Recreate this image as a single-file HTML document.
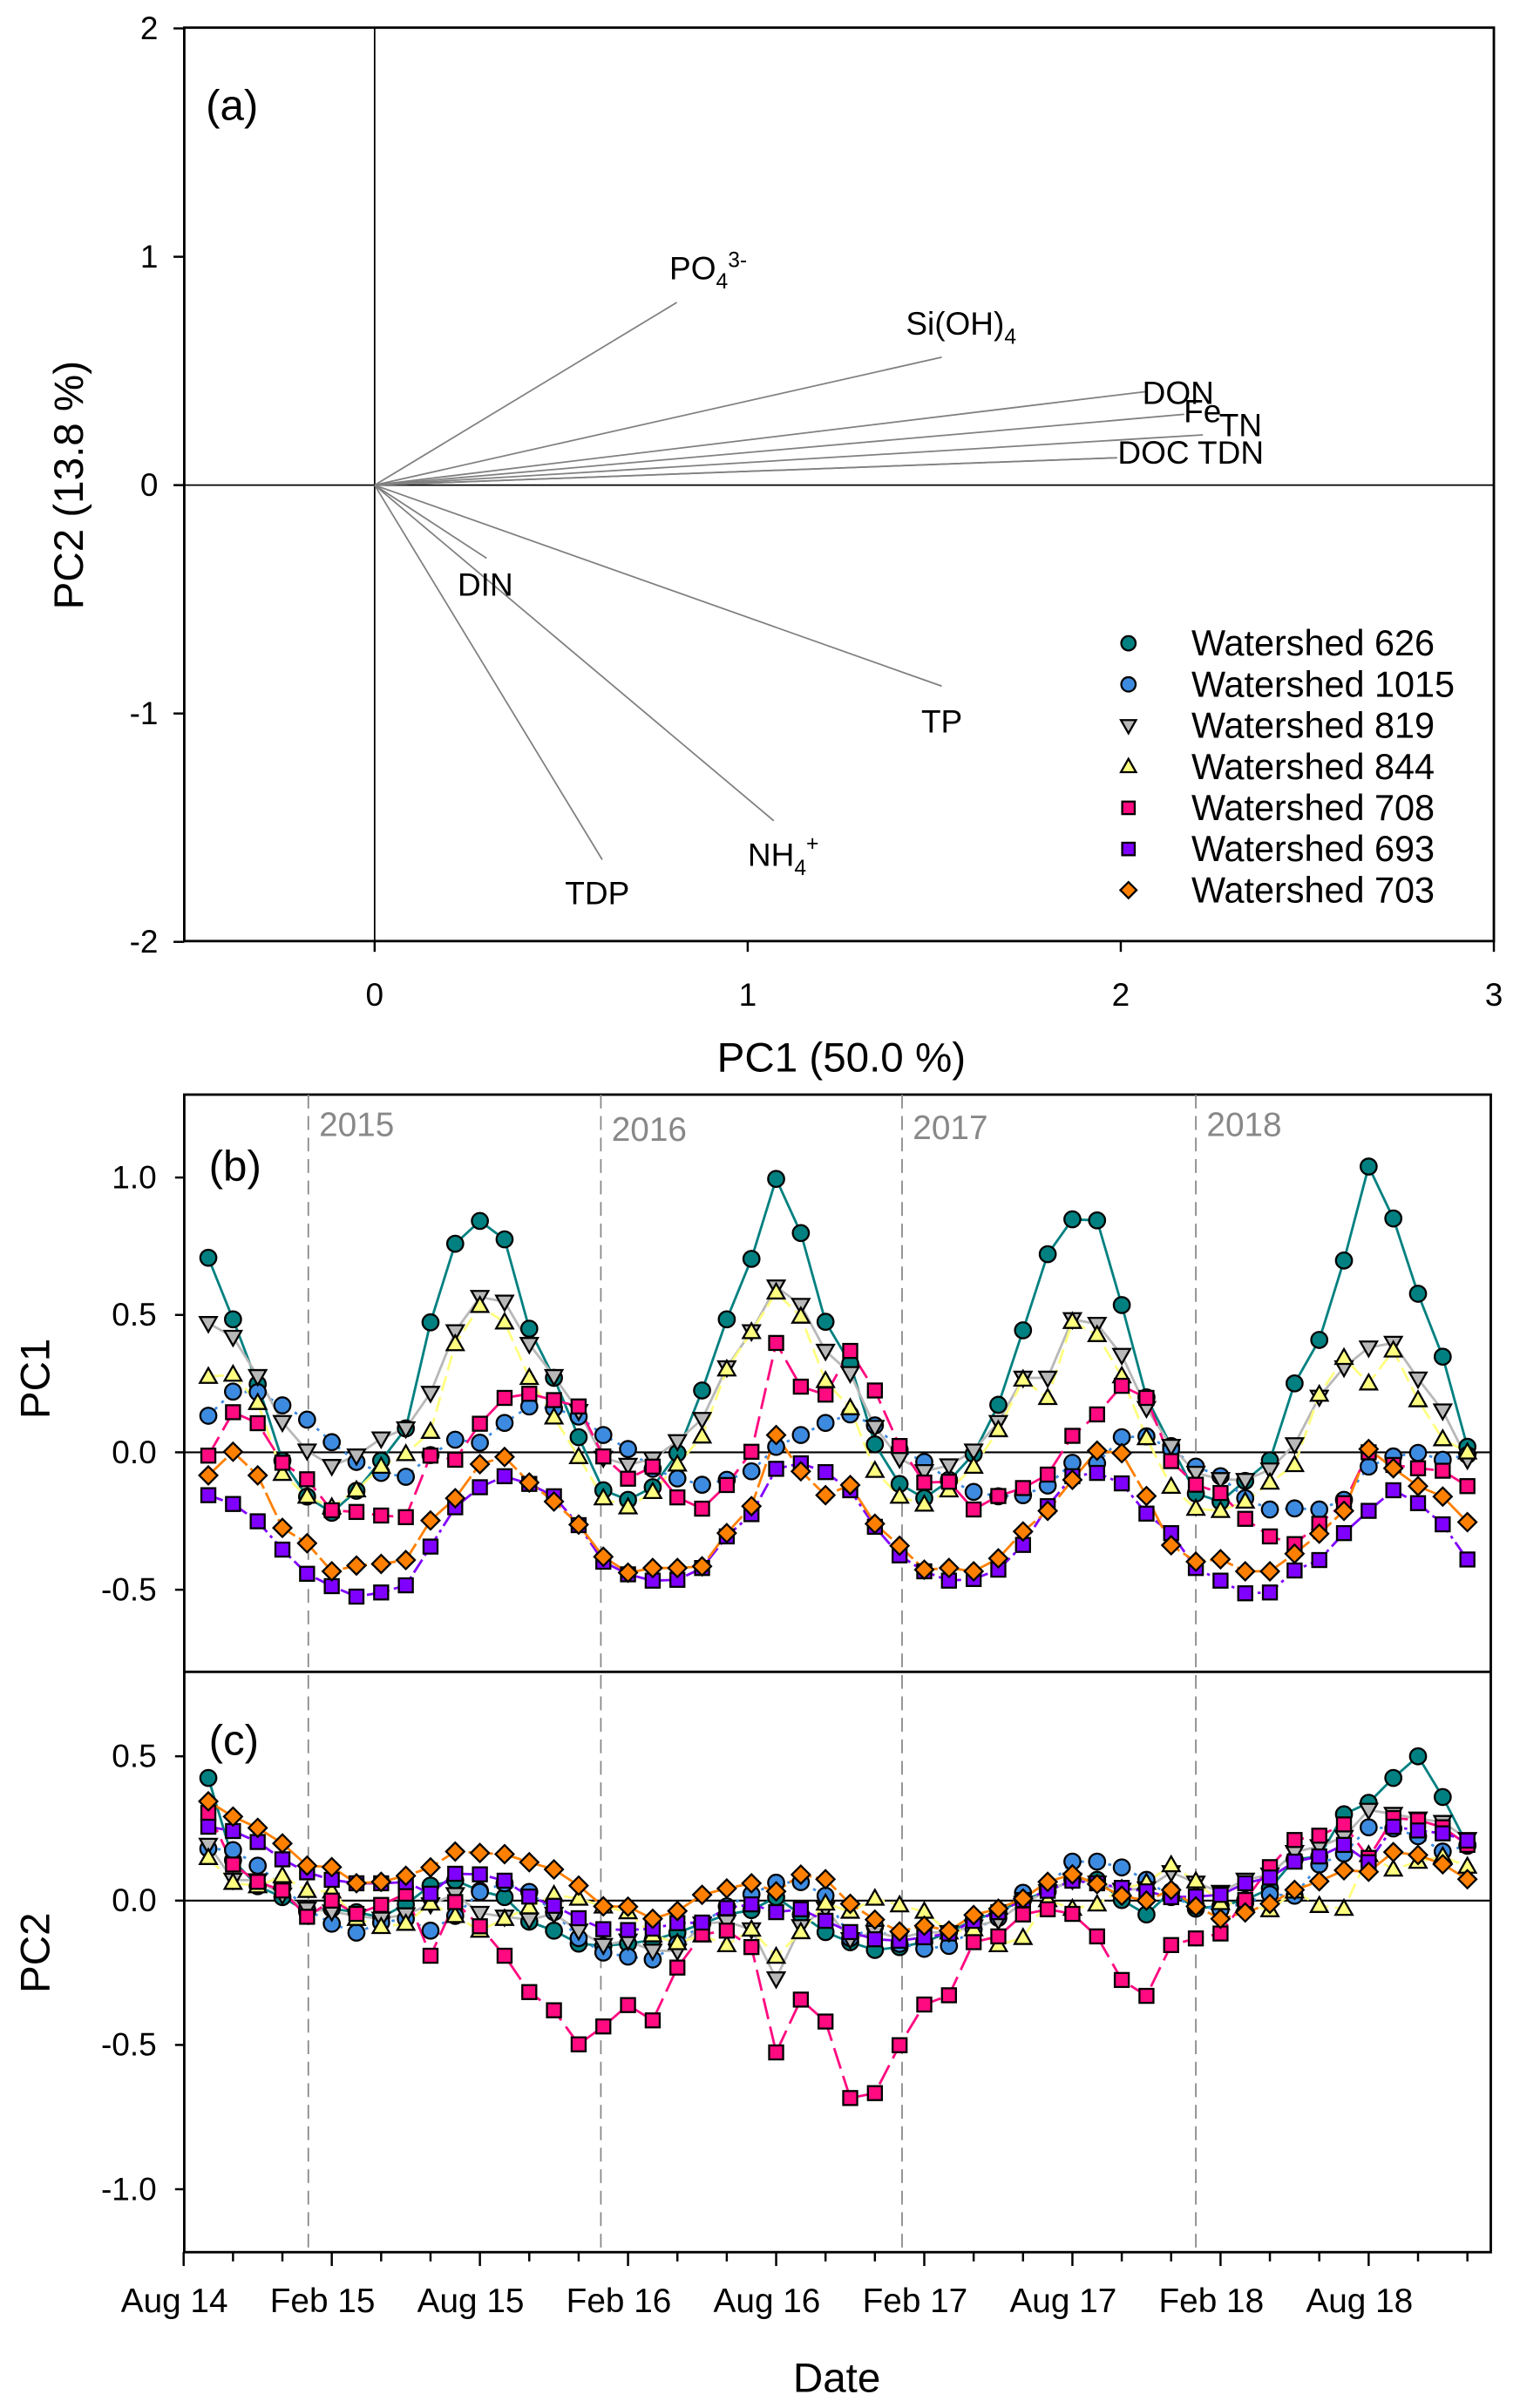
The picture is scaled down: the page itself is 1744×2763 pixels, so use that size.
<!DOCTYPE html>
<html><head><meta charset="utf-8">
<style>
html,body{margin:0;padding:0;background:#fff;}
svg{display:block;}
text{font-family:"Liberation Sans",Arial,sans-serif;}
.n{font-family:"Liberation Sans Narrow","Liberation Sans",sans-serif;}
</style></head>
<body>
<svg id="fig" xmlns="http://www.w3.org/2000/svg" width="1744" height="2763" viewBox="0 0 990 1568.5">
<rect x="0" y="0" width="990" height="1568.5" fill="#fff"/>
<g>
<rect x="120" y="18" width="853" height="595" fill="none" stroke="#000" stroke-width="1.6"/>
<line x1="244" y1="18" x2="244" y2="613" stroke="#000" stroke-width="1"/>
<line x1="120" y1="316" x2="973" y2="316" stroke="#000" stroke-width="1"/>
<text x="134" y="78" font-size="28">(a)</text>
<text transform="translate(54,316) rotate(-90)" text-anchor="middle" font-size="27">PC2 (13.8 %)</text>
<text x="548" y="698" text-anchor="middle" font-size="27">PC1 (50.0 %)</text>
</g>
<g id="pa"></g>
<g>
<rect x="120" y="713" width="851" height="754" fill="none" stroke="#000" stroke-width="1.6"/>
<line x1="120" y1="1089" x2="971" y2="1089" stroke="#000" stroke-width="1.6"/>
<line x1="120" y1="946" x2="971" y2="946" stroke="#000" stroke-width="1.2"/>
<line x1="120" y1="1238" x2="971" y2="1238" stroke="#000" stroke-width="1.2"/>
<text x="136" y="769" font-size="28">(b)</text>
<text x="136" y="1143" font-size="28">(c)</text>
<text transform="translate(32,898) rotate(-90)" text-anchor="middle" font-size="27">PC1</text>
<text transform="translate(32,1272) rotate(-90)" text-anchor="middle" font-size="27">PC2</text>
<text x="545" y="1558" text-anchor="middle" font-size="27">Date</text>
</g>
<g id="pbc"></g>
</svg>
<script>
const loadNames = ["PO4","Si(OH)4","DON","Fe","TN","DOC","TDN","DIN","TP","NH4","TDP"];
const loadPC1 = [0.81, 1.52, 2.07, 2.17, 2.22, 1.99, 1.99, 0.30, 1.52, 1.07, 0.61];
const loadPC2 = [0.80, 0.56, 0.41, 0.31, 0.22, 0.12, 0.12, -0.32, -0.88, -1.47, -1.64];
const aXTicks = [0,1,2,3];
const aYTicks = [2,1,0,-1,-2];
const monthIdx = []; for (let i=1;i<=52;i++) monthIdx.push(i);
const seriesNames = ["Watershed 626","Watershed 1015","Watershed 819","Watershed 844","Watershed 708","Watershed 693","Watershed 703"];
const pc1_626 = [0.708,0.484,0.248,-0.03,-0.161,-0.22,-0.14,-0.03,0.087,0.473,0.759,0.842,0.775,0.45,0.271,0.055,-0.138,-0.173,-0.127,-0.003,0.225,0.484,0.704,0.995,0.798,0.475,0.323,0.029,-0.115,-0.167,-0.104,-0.006,0.173,0.444,0.721,0.848,0.844,0.536,0.2,0.023,-0.15,-0.179,-0.104,-0.029,0.251,0.409,0.698,1.04,0.851,0.577,0.348,0.02];
const pc1_1015 = [0.133,0.221,0.219,0.171,0.119,0.037,-0.035,-0.075,-0.089,-0.01,0.046,0.035,0.107,0.167,0.16,0.13,0.063,0.012,-0.06,-0.095,-0.118,-0.1,-0.069,0.02,0.063,0.107,0.138,0.098,0.01,-0.035,-0.1,-0.144,-0.16,-0.156,-0.121,-0.038,-0.04,0.055,0.058,0.012,-0.052,-0.087,-0.167,-0.208,-0.204,-0.208,-0.173,-0.052,-0.015,-0.002,-0.027,-0.01];
const pc1_819 = [0.47,0.42,0.277,0.11,0.006,-0.05,-0.012,0.05,0.087,0.216,0.44,0.565,0.548,0.394,0.277,0.15,-0.02,-0.046,-0.023,0.04,0.121,0.309,0.44,0.603,0.536,0.369,0.288,0.092,-0.023,-0.069,-0.048,0.006,0.11,0.271,0.271,0.484,0.467,0.354,0.161,0.023,-0.075,-0.098,-0.101,-0.063,0.029,0.202,0.309,0.381,0.398,0.268,0.152,-0.027];
const pc1_844 = [0.275,0.283,0.18,-0.078,-0.161,-0.2,-0.138,-0.052,-0.006,0.075,0.394,0.533,0.473,0.271,0.127,-0.017,-0.167,-0.2,-0.144,-0.044,0.058,0.302,0.438,0.582,0.494,0.26,0.161,-0.067,-0.161,-0.19,-0.138,-0.052,0.081,0.265,0.198,0.475,0.427,0.277,0.052,-0.125,-0.205,-0.213,-0.179,-0.11,-0.046,0.21,0.344,0.251,0.371,0.19,0.048,0.0];
const pc1_708 = [-0.012,0.146,0.106,-0.038,-0.098,-0.211,-0.217,-0.23,-0.236,-0.012,-0.027,0.104,0.198,0.213,0.19,0.167,-0.015,-0.096,-0.052,-0.164,-0.205,-0.119,0.002,0.398,0.239,0.21,0.369,0.225,0.023,-0.11,-0.107,-0.208,-0.159,-0.13,-0.081,0.06,0.138,0.242,0.198,-0.032,-0.118,-0.148,-0.242,-0.306,-0.334,-0.26,-0.185,0.0,-0.046,-0.058,-0.067,-0.123];
const pc1_693 = [-0.156,-0.188,-0.251,-0.354,-0.442,-0.487,-0.525,-0.51,-0.484,-0.343,-0.2,-0.127,-0.087,-0.115,-0.16,-0.265,-0.398,-0.444,-0.467,-0.464,-0.421,-0.306,-0.225,-0.06,-0.04,-0.072,-0.138,-0.271,-0.375,-0.433,-0.467,-0.461,-0.427,-0.337,-0.196,-0.087,-0.075,-0.113,-0.223,-0.294,-0.421,-0.467,-0.513,-0.51,-0.43,-0.392,-0.294,-0.213,-0.138,-0.185,-0.262,-0.39];
const pc1_703 = [-0.084,0.002,-0.084,-0.275,-0.331,-0.433,-0.412,-0.406,-0.392,-0.248,-0.167,-0.043,-0.017,-0.11,-0.179,-0.263,-0.38,-0.438,-0.421,-0.421,-0.415,-0.294,-0.196,0.063,-0.069,-0.156,-0.119,-0.26,-0.34,-0.427,-0.421,-0.433,-0.386,-0.288,-0.213,-0.1,0.006,-0.003,-0.159,-0.338,-0.398,-0.389,-0.433,-0.433,-0.369,-0.296,-0.213,0.012,-0.058,-0.123,-0.161,-0.254];
const pc2_626 = [0.425,0.14,0.05,0.012,-0.038,-0.028,-0.04,-0.058,-0.013,0.052,0.07,0.034,0.012,-0.073,-0.104,-0.149,-0.157,-0.149,-0.137,-0.111,-0.08,-0.048,-0.033,0.012,-0.048,-0.109,-0.144,-0.171,-0.161,-0.144,-0.109,-0.068,-0.038,0.002,0.032,0.072,0.072,0.002,-0.048,0.032,-0.028,-0.018,0.002,0.042,0.143,0.153,0.299,0.339,0.425,0.5,0.359,0.193];
const pc2_1015 = [0.18,0.175,0.121,0.05,-0.03,-0.08,-0.111,-0.076,-0.063,-0.104,-0.053,0.03,0.06,0.03,-0.04,-0.13,-0.18,-0.194,-0.204,-0.15,-0.08,-0.02,0.022,0.062,0.064,0.017,-0.13,-0.09,-0.15,-0.167,-0.157,-0.1,-0.06,0.027,0.05,0.135,0.135,0.115,0.072,0.012,-0.018,-0.031,-0.008,0.022,0.017,0.125,0.163,0.254,0.25,0.223,0.17,0.19];
const pc2_819 = [0.193,0.072,0.07,0.02,-0.028,-0.038,-0.053,-0.063,-0.048,-0.013,0.022,-0.043,-0.056,-0.066,-0.046,-0.104,-0.154,-0.139,-0.174,-0.174,-0.08,-0.073,-0.1,-0.27,-0.089,-0.028,-0.134,-0.109,-0.129,-0.11,-0.11,-0.09,-0.068,-0.008,0.032,0.072,0.062,0.037,0.042,0.098,0.062,0.03,0.072,0.09,0.168,0.188,0.22,0.314,0.3,0.284,0.272,0.213];
const pc2_844 = [0.148,0.062,0.05,0.085,0.034,0.032,-0.063,-0.091,-0.08,-0.01,-0.053,-0.104,-0.063,-0.023,0.02,0.007,-0.02,-0.04,-0.12,-0.147,-0.12,-0.154,-0.1,-0.194,-0.109,-0.01,-0.038,0.007,-0.016,-0.038,-0.11,-0.099,-0.154,-0.129,0.002,-0.028,-0.013,0.04,0.062,0.123,0.067,-0.008,-0.013,-0.033,0.032,-0.018,-0.028,0.158,0.108,0.135,0.153,0.118];
const pc2_708 = [0.304,0.125,0.065,0.035,-0.056,0,-0.046,-0.015,0.024,-0.191,-0.005,-0.089,-0.191,-0.317,-0.38,-0.498,-0.436,-0.362,-0.415,-0.232,-0.117,-0.104,-0.161,-0.526,-0.343,-0.419,-0.684,-0.667,-0.501,-0.36,-0.328,-0.144,-0.124,-0.048,-0.03,-0.046,-0.124,-0.275,-0.33,-0.154,-0.131,-0.114,0.002,0.116,0.21,0.225,0.264,0.148,0.286,0.279,0.254,0.193];
const pc2_693 = [0.256,0.241,0.203,0.143,0.098,0.072,0.06,0.06,0.064,0.024,0.093,0.091,0.069,0.014,-0.018,-0.061,-0.099,-0.102,-0.097,-0.078,-0.076,-0.026,-0.013,-0.04,-0.03,-0.07,-0.109,-0.134,-0.139,-0.127,-0.114,-0.07,-0.04,0.002,0.034,0.069,0.06,0.044,0.032,0.012,0.014,0.02,0.06,0.08,0.135,0.153,0.193,0.133,0.256,0.243,0.233,0.208];
const pc2_703 = [0.344,0.291,0.252,0.198,0.121,0.116,0.06,0.065,0.086,0.115,0.17,0.165,0.161,0.133,0.108,0.052,-0.02,-0.021,-0.063,-0.036,0.02,0.042,0.06,0.032,0.09,0.074,-0.011,-0.066,-0.107,-0.087,-0.104,-0.05,-0.028,0.007,0.065,0.091,0.057,0.017,0,0.037,-0.02,-0.063,-0.041,-0.011,0.037,0.067,0.105,0.1,0.168,0.158,0.126,0.074];
const bYTicks = [1.0,0.5,0.0,-0.5];
const bYTickLabels = ["1.0","0.5","0.0","-0.5"];
const cYTicks = [0.5,0.0,-0.5,-1.0];
const cYTickLabels = ["0.5","0.0","-0.5","-1.0"];
const dateLabels = ["Aug 14","Feb 15","Aug 15","Feb 16","Aug 16","Feb 17","Aug 17","Feb 18","Aug 18"];
const dateLabelMonths = [0,6,12,18,24,30,36,42,48];
const yearLabels = ["2015","2016","2017","2018"];
const yearMonths = [5.05,16.9,29.1,41.0];

const NS="http://www.w3.org/2000/svg";
function mk(tag, attrs, parent){const e=document.createElementNS(NS,tag);for(const k in attrs)e.setAttribute(k,attrs[k]);parent.appendChild(e);return e;}

const pa=document.getElementById('pa');
const ax=v=>244+243*v, ay=v=>316-148.75*v;
aXTicks.forEach(t=>{
  const l=mk('line',{x1:ax(t),x2:ax(t),y1:613,y2:620,stroke:'#000','stroke-width':1.4},pa);
  
  
  const tx=mk('text',{x:ax(t),y:655,'text-anchor':'middle','font-size':21,class:'n'},pa);tx.textContent=String(t);
  
  
});
aYTicks.forEach(t=>{
  const l=mk('line',{x1:113,x2:120,y1:ay(t),y2:ay(t),stroke:'#000','stroke-width':1.4},pa);
  
  
  const tx=mk('text',{x:103,y:ay(t)+7,'text-anchor':'end','font-size':21,class:'n'},pa);tx.textContent=String(t);
  
  
});
loadNames.forEach((n,i)=>{
  const l=mk('line',{x1:ax(0),y1:ay(0),x2:ax(loadPC1[i]),y2:ay(loadPC2[i]),stroke:'#808080','stroke-width':1},pa);
  
  
});
const labs=[
 ['PO<tspan font-size="14" dy="6">4</tspan><tspan font-size="14" dy="-14">3-</tspan>',436,182],
 ['Si(OH)<tspan font-size="14" dy="6">4</tspan>',590,218],
 ['DON',744,263],['Fe',771,275],['TN',794,284],['DOC',728,302],['TDN',780,302],
 ['DIN',298,388],['TP',600,477],
 ['NH<tspan font-size="14" dy="6">4</tspan><tspan font-size="14" dy="-16">+</tspan>',487,564],
 ['TDP',368,589]];
labs.forEach(a=>{
  const t=mk('text',{x:a[1],y:a[2],'font-size':21,class:'n'},pa);t.innerHTML=a[0];
  
  
});

const colors=['#008080','#3d8be0','#b8b8b8','#ffff80','#ff0a80','#8000ff','#ff8000'];
const shapes=['circle','circle','down','up','square','square','diamond'];
const dashes=['','2 4','','10 4','14 5','10 3 2 3','16 3'];
function marker(parent,shape,cx,cy,fill,s){
  let e;
  if(shape==='circle') e=mk('circle',{cx:cx,cy:cy,r:s*0.55,fill:fill,stroke:'#000','stroke-width':1.3},parent);
  else if(shape==='square') e=mk('rect',{x:cx-s*0.48,y:cy-s*0.48,width:s*0.96,height:s*0.96,fill:fill,stroke:'#000','stroke-width':1.3},parent);
  else if(shape==='diamond') e=mk('polygon',{points:`${cx},${cy-s*0.62} ${cx+s*0.62},${cy} ${cx},${cy+s*0.62} ${cx-s*0.62},${cy}`,fill:fill,stroke:'#000','stroke-width':1.3},parent);
  else if(shape==='up') e=mk('polygon',{points:`${cx},${cy-s*0.6} ${cx+s*0.58},${cy+s*0.42} ${cx-s*0.58},${cy+s*0.42}`,fill:fill,stroke:'#000','stroke-width':1.3},parent);
  else e=mk('polygon',{points:`${cx},${cy+s*0.6} ${cx+s*0.58},${cy-s*0.42} ${cx-s*0.58},${cy-s*0.42}`,fill:fill,stroke:'#000','stroke-width':1.3},parent);
  return e;
}
seriesNames.forEach((n,i)=>{
  const y=419+26.8*i;
  const m=marker(pa,shapes[i],735,y,colors[i],8.5);
  
  
  const t=mk('text',{x:776,y:y+8,'font-size':23.5,class:'n'},pa);t.textContent=n;
  
  
});

const pbc=document.getElementById('pbc');
const X=m=>119.6+16.08*m;
const YB=v=>946-179*v;
const YC=v=>1238-188*v;
yearMonths.forEach((m,i)=>{
  const l=mk('line',{x1:X(m),x2:X(m),y1:713,y2:1467,stroke:'#888','stroke-width':1,'stroke-dasharray':'9 5'},pbc);
  
  
  const t=mk('text',{x:X(m)+7,y:[740,743,742,740][i],'font-size':22,fill:'#888',class:'n'},pbc);t.textContent=yearLabels[i];
  
  
});
bYTicks.forEach((v,i)=>{
  const l=mk('line',{x1:114,x2:120,y1:YB(v),y2:YB(v),stroke:'#000','stroke-width':1.4},pbc);
  
  
  const t=mk('text',{x:102,y:YB(v)+7,'text-anchor':'end','font-size':21,class:'n'},pbc);t.textContent=bYTickLabels[i];
  
  
});
cYTicks.forEach((v,i)=>{
  const l=mk('line',{x1:114,x2:120,y1:YC(v),y2:YC(v),stroke:'#000','stroke-width':1.4},pbc);
  
  
  const t=mk('text',{x:102,y:YC(v)+7,'text-anchor':'end','font-size':21,class:'n'},pbc);t.textContent=cYTickLabels[i];
  
  
});
for(let m=0;m<=52;m+=2){
  const major=(m%6===0);
  const l=mk('line',{x1:X(m),x2:X(m),y1:1467,y2:1467+(major?9:6),stroke:'#000','stroke-width':1.4},pbc);
  
  
}
dateLabels.forEach((s,i)=>{
  const t=mk('text',{x:X(dateLabelMonths[i])-6,y:1506,'text-anchor':'middle','font-size':22,class:'n'},pbc);t.textContent=s;
  
  
});
const pc1Series=[pc1_626,pc1_1015,pc1_819,pc1_844,pc1_708,pc1_693,pc1_703];
const pc2Series=[pc2_626,pc2_1015,pc2_819,pc2_844,pc2_708,pc2_693,pc2_703];
function drawPanel(series,Y,tag){
  const g=mk('g',{},pbc);
  
  
  series.forEach((vals,i)=>{
    const pts=vals.map((v,j)=>X(monthIdx[j])+','+Y(v)).join(' ');
    const pl=mk('polyline',{points:pts,fill:'none',stroke:colors[i],'stroke-width':1.6},g);
    if(dashes[i])pl.setAttribute('stroke-dasharray',dashes[i]);
    
    
  });
  series.forEach((vals,i)=>{
    vals.forEach((v,j)=>{
      const e=marker(g,shapes[i],X(monthIdx[j]),Y(v),colors[i],9.5);
      
      
    });
  });
}
drawPanel(pc1Series,YB,'pc1');
drawPanel(pc2Series,YC,'pc2');
</script>
</body></html>
